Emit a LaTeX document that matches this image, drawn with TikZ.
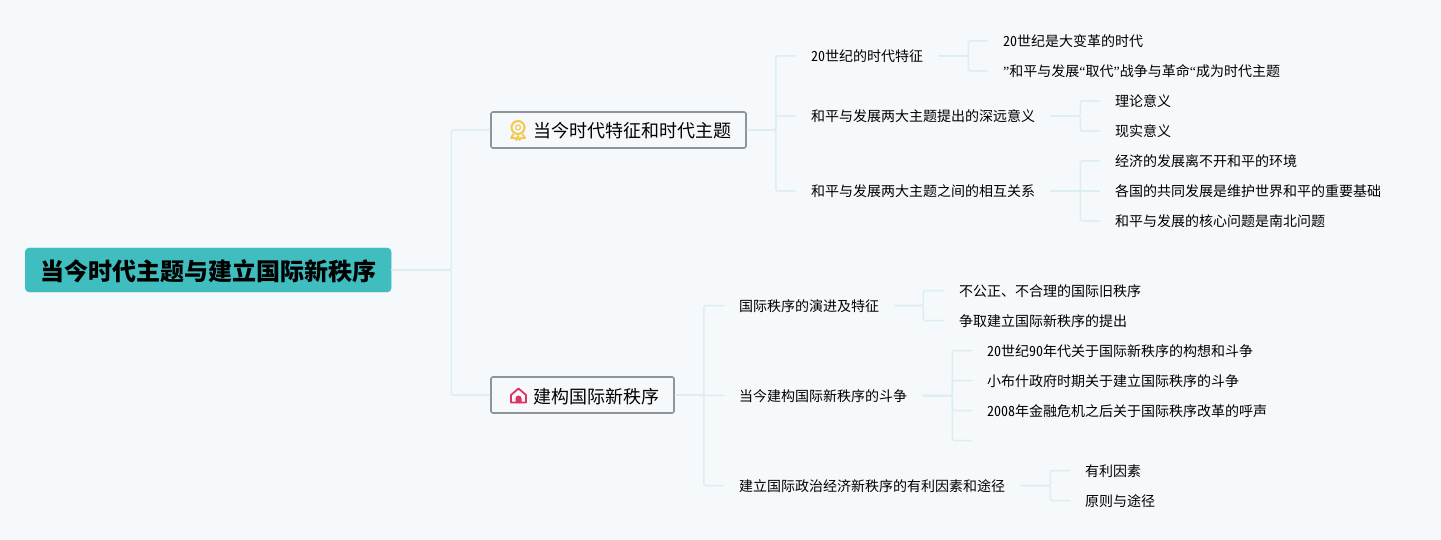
\documentclass[tikz,border=0pt]{standalone}
\usepackage{fontspec}
\setmainfont{Noto Sans CJK SC}[RawFeature=+hwid]
\newfontfamily\quotefont{Liberation Serif}
\definecolor{pagebg}{HTML}{F5F9FB}
\definecolor{rootfill}{HTML}{3FBDBF}
\definecolor{linkline}{HTML}{DCEEEE}
\definecolor{framegray}{HTML}{8F9499}
\definecolor{medalgold}{HTML}{F5C84B}
\definecolor{housered}{HTML}{E0325F}
\begin{document}
\begin{tikzpicture}[x=1pt,y=-1pt]
	\tikzset{rootbox/.style={anchor=west,fill=rootfill,draw=rootfill,rounded corners=4pt,minimum height=44pt,inner xsep=15pt,text height=20pt,text depth=0pt,font=\fontsize{24}{24}\selectfont\bfseries,text=black}};
	\tikzset{branchbox/.style={anchor=west,fill=pagebg,draw=framegray,line width=1.6pt,rounded corners=2pt,minimum height=36pt,inner xsep=15pt,text height=16pt,text depth=0pt,font=\fontsize{18}{18}\selectfont,text=black}};
	\tikzset{topicbox/.style={anchor=west,inner xsep=15pt,inner ysep=0pt,text height=13pt,text depth=1pt,font=\fontsize{14}{14}\selectfont,text=black}};
	\tikzset{linkline/.style={draw=linkline,line width=1.5pt,rounded corners=1.5pt}};
	\fill[pagebg] (0,0) rectangle (1441,540);
	\useasboundingbox (0,0) rectangle (1441,540);
	\node[rootbox] (root) at (25,270) {当今时代主题与建立国际新秩序};
	\node[branchbox] (era) at (490.2,130) {\hspace{27pt}当今时代特征和时代主题};
	\node[branchbox] (order) at (490.2,395) {\hspace{27pt}建构国际新秩序};
	\node[topicbox] (feature) at (796,56) {20世纪的时代特征};
	\node[topicbox] (meaning) at (796,116) {和平与发展两大主题提出的深远意义};
	\node[topicbox] (relation) at (796,191) {和平与发展两大主题之间的相互关系};
	\node[topicbox] (change) at (988,41) {20世纪是大变革的时代};
	\node[topicbox] (replace) at (988,71) {{\quotefont ”}和平与发展{\quotefont “}取代{\quotefont ”}战争与革命{\quotefont “}成为时代主题};
	\node[topicbox] (theory) at (1100,101) {理论意义};
	\node[topicbox] (reality) at (1100,131) {现实意义};
	\node[topicbox] (economy) at (1100,161) {经济的发展离不开和平的环境};
	\node[topicbox] (common) at (1100,191) {各国的共同发展是维护世界和平的重要基础};
	\node[topicbox] (north) at (1100,221) {和平与发展的核心问题是南北问题};
	\node[topicbox] (evolve) at (724,305.5) {国际秩序的演进及特征};
	\node[topicbox] (struggle) at (724,395.5) {当今建构国际新秩序的斗争};
	\node[topicbox] (favor) at (724,485.5) {建立国际政治经济新秩序的有利因素和途径};
	\node[topicbox] (unfair) at (944,290.5) {不公正、不合理的国际旧秩序};
	\node[topicbox] (propose) at (944,320.5) {争取建立国际新秩序的提出};
	\node[topicbox] (nineties) at (972,350.5) {20世纪90年代关于国际新秩序的构想和斗争};
	\node[topicbox] (bush) at (972,380.5) {小布什政府时期关于建立国际秩序的斗争};
	\node[topicbox] (crisis) at (972,410.5) {2008年金融危机之后关于国际秩序改革的呼声};
	\coordinate (blank) at (972,440.5);
	\node[topicbox] (factor) at (1070,470.5) {有利因素};
	\node[topicbox] (path) at (1070,500.5) {原则与途径};
	\draw[linkline] (root.east) -- ++(60,0) |- (era.west);
	\draw[linkline] (root.east) -- ++(60,0) |- (order.west);
	\draw[linkline] (era.east) -- ++(29,0) |- (feature.west);
	\draw[linkline] (era.east) -- ++(29,0) |- (meaning.west);
	\draw[linkline] (era.east) -- ++(29,0) |- (relation.west);
	\draw[linkline] (feature.east) -- ++(30,0) |- (change.west);
	\draw[linkline] (feature.east) -- ++(30,0) |- (replace.west);
	\draw[linkline] (meaning.east) -- ++(30,0) |- (theory.west);
	\draw[linkline] (meaning.east) -- ++(30,0) |- (reality.west);
	\draw[linkline] (relation.east) -- ++(30,0) |- (economy.west);
	\draw[linkline] (relation.east) -- (common.west);
	\draw[linkline] (relation.east) -- ++(30,0) |- (north.west);
	\draw[linkline] (order.east) -- ++(29,0) |- (evolve.west);
	\draw[linkline] (order.east) -- (struggle.west);
	\draw[linkline] (order.east) -- ++(29,0) |- (favor.west);
	\draw[linkline] (evolve.east) -- ++(29,0) |- (unfair.west);
	\draw[linkline] (evolve.east) -- ++(29,0) |- (propose.west);
	\draw[linkline] (struggle.east) -- ++(30,0) |- (nineties.west);
	\draw[linkline] (struggle.east) -- ++(30,0) |- (bush.west);
	\draw[linkline] (struggle.east) -- ++(30,0) |- (crisis.west);
	\draw[linkline] (struggle.east) -- ++(30,0) |- (blank);
	\draw[linkline] (favor.east) -- ++(30,0) |- (factor.west);
	\draw[linkline] (favor.east) -- ++(30,0) |- (path.west);
	\draw[medalgold,line width=2pt] (518,127.5) circle (6.5pt);
	\draw[medalgold,line width=1.2pt] (518,127.5) circle (2.5pt);
	\draw[medalgold,line width=1.8pt,line join=round] (513.5,134) -- (511,138) -- (515,138) -- (516.5,140) -- (518,136) -- (519.5,140) -- (521,138) -- (525,138) -- (522.5,134);
	\draw[housered,line width=1.8pt,line join=round] (511,402.5) -- (511,395) -- (518.5,388.5) -- (526,395) -- (526,402.5) -- cycle;
	\fill[housered] (515.5,403) -- (515.5,398.5) arc[start angle=180,end angle=0,radius=3pt] -- (521.5,403) -- cycle;
\end{tikzpicture}
\end{document}
